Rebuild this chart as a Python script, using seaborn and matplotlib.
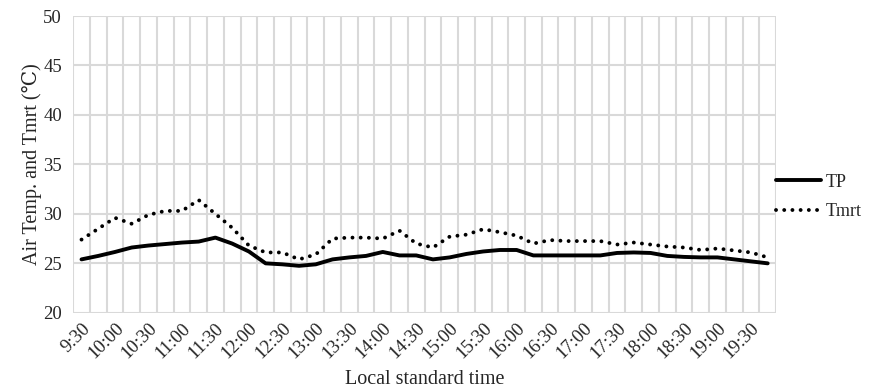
import numpy as np
import pandas as pd
import seaborn as sns
import matplotlib.pyplot as plt

# 15-minute readings, 9:30 to 19:45
times = ["9:30", "9:45", "10:00", "10:15", "10:30", "10:45", "11:00", "11:15",
         "11:30", "11:45", "12:00", "12:15", "12:30", "12:45", "13:00", "13:15",
         "13:30", "13:45", "14:00", "14:15", "14:30", "14:45", "15:00", "15:15",
         "15:30", "15:45", "16:00", "16:15", "16:30", "16:45", "17:00", "17:15",
         "17:30", "17:45", "18:00", "18:15", "18:30", "18:45", "19:00", "19:15",
         "19:30", "19:45"]
tp = [25.4, 25.75, 26.15, 26.6, 26.8, 26.95, 27.1, 27.2, 27.6, 27.0, 26.2,
      25.0, 24.9, 24.75, 24.9, 25.4, 25.6, 25.75, 26.15, 25.8, 25.8, 25.4,
      25.6, 25.95, 26.2, 26.35, 26.35, 25.8, 25.8, 25.8, 25.8, 25.8, 26.05,
      26.1, 26.05, 25.75, 25.65, 25.6, 25.6, 25.4, 25.2, 25.0]
tmrt = [27.4, 28.5, 29.6, 29.0, 29.9, 30.3, 30.3, 31.4, 30.0, 28.6, 26.8,
        26.1, 26.1, 25.4, 25.9, 27.5, 27.6, 27.6, 27.5, 28.3, 27.0, 26.6,
        27.7, 27.9, 28.45, 28.15, 27.8, 27.0, 27.35, 27.25, 27.25, 27.25, 26.9,
        27.1, 26.9, 26.7, 26.6, 26.35, 26.5, 26.3, 26.1, 25.6]

df = pd.DataFrame({"pos": np.arange(len(times)), "TP": tp, "Tmrt": tmrt})

sns.set_style("white")
plt.rcParams["font.family"] = ["Liberation Serif", "DejaVu Serif"]

fig = plt.figure(figsize=(8.92, 3.91), dpi=100)
ax = fig.add_axes([0.082, 0.2, 0.788, 0.759])

sns.lineplot(data=df, x="pos", y="TP", ax=ax, color="black", lw=2.8,
             label="TP", solid_capstyle="round")
sns.lineplot(data=df, x="pos", y="Tmrt", ax=ax, color="black", lw=2.8,
             label="Tmrt", dashes=(0.01, 2.1), dash_capstyle="round")

n = len(times)
ax.set_xlim(-0.5, n - 0.5)
ax.set_ylim(20, 50)
ax.set_yticks(np.arange(20, 51, 5))
ax.set_xticks(np.arange(0, n, 2))
ax.set_xticklabels(times[::2], rotation=45, ha="right", rotation_mode="anchor")
ax.set_xticks(np.arange(-0.5, n, 1), minor=True)
ax.grid(False)
ax.grid(axis="x", which="minor", color="#d9d9d9", lw=1.5)
ax.grid(axis="y", which="major", color="#d9d9d9", lw=1.5)
ax.tick_params(axis="both", which="both", length=0, labelsize=13.5, pad=8)
ax.tick_params(axis="x", pad=5)
for s in ax.spines.values():
    s.set_visible(False)

ax.set_xlabel("Local standard time", fontsize=14.5, labelpad=6)
ax.set_ylabel("Air Temp. and Tmrt (\u2103)", fontsize=14.5, labelpad=1)

ax.legend(loc="center left", bbox_to_anchor=(0.99, 0.39), frameon=False,
          borderaxespad=0, fontsize=13, handlelength=2.5, handletextpad=0.25,
          labelspacing=0.7)

fig.savefig("out.png", dpi=100)
